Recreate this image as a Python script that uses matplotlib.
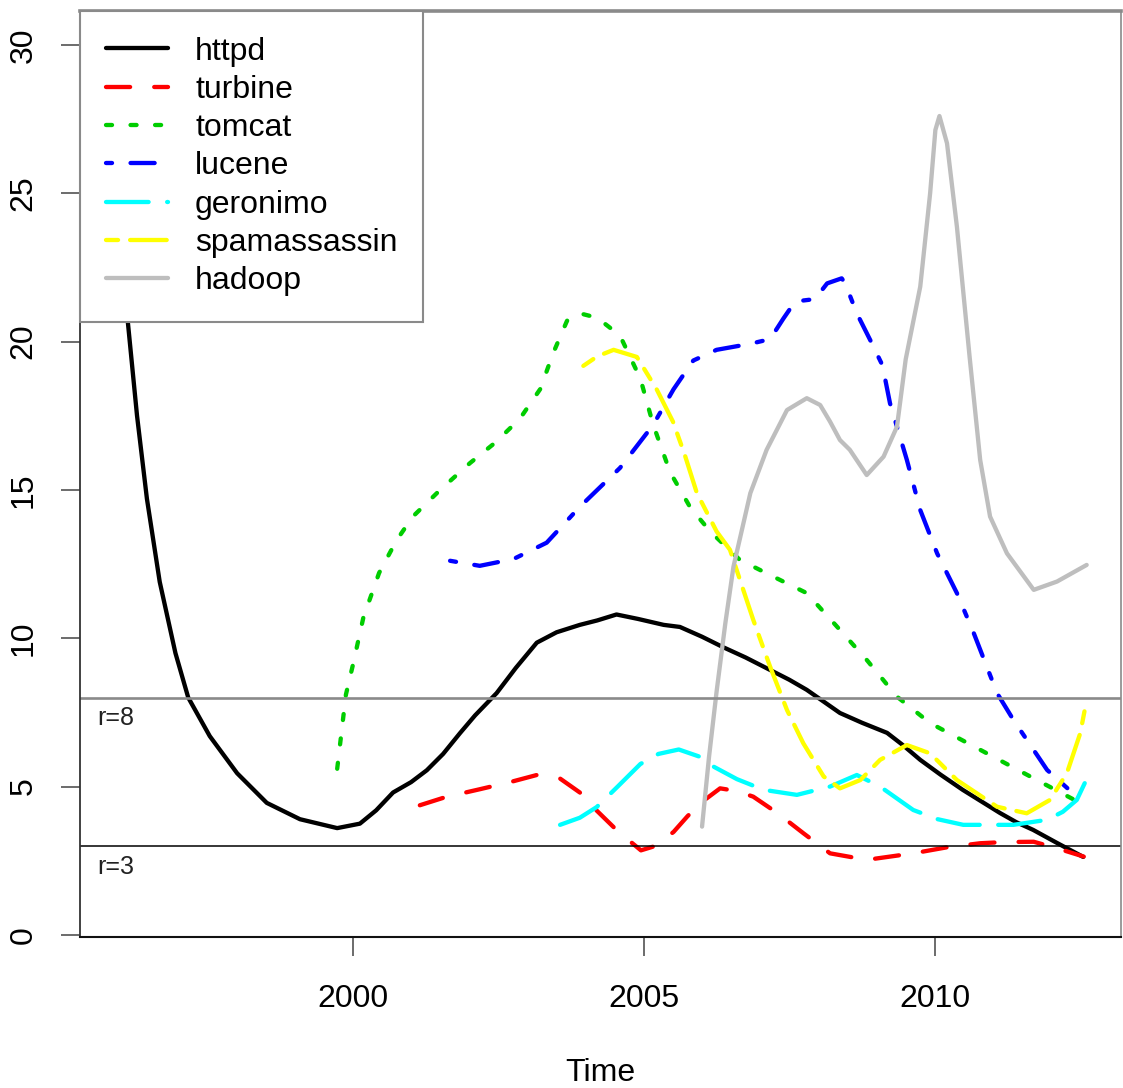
import matplotlib
matplotlib.use('Agg')
import matplotlib.pyplot as plt

plt.rcParams['font.family'] = ['Liberation Sans', 'DejaVu Sans']

# --- series (year, value) ---
httpd_x = [1995.85, 1996.0, 1996.13, 1996.29, 1996.46, 1996.68, 1996.95, 1997.17, 1997.54,
           1998.01, 1998.52, 1999.09, 1999.73, 2000.12, 2000.4, 2000.69, 2001.0, 2001.27,
           2001.55, 2001.84, 2002.1, 2002.47, 2002.8, 2003.16, 2003.5, 2003.9, 2004.2,
           2004.53, 2004.9, 2005.34, 2005.62, 2006.0, 2006.36, 2006.75, 2007.17, 2007.5,
           2007.8, 2008.1, 2008.37, 2008.75, 2009.18, 2009.45, 2009.75, 2010.1, 2010.48,
           2010.8, 2011.12, 2011.4, 2011.69, 2012.1, 2012.55]
httpd_y = [30.0, 24.5, 20.7, 17.5, 14.7, 11.9, 9.5, 8.0, 6.7, 5.45, 4.45, 3.9, 3.6, 3.75,
           4.2, 4.8, 5.15, 5.55, 6.1, 6.8, 7.4, 8.15, 9.0, 9.85, 10.2, 10.45, 10.6, 10.8,
           10.65, 10.45, 10.38, 10.05, 9.7, 9.35, 8.93, 8.6, 8.26, 7.85, 7.48, 7.15, 6.81,
           6.4, 5.9, 5.4, 4.89, 4.5, 4.11, 3.8, 3.54, 3.1, 2.63]

turbine_x = [2001.15, 2001.6, 2002.18, 2002.7, 2003.16, 2003.56, 2003.9, 2004.19, 2004.55,
             2004.95, 2005.2, 2005.51, 2005.75, 2005.97, 2006.31, 2006.6, 2006.88, 2007.3,
             2007.74, 2008.2, 2008.83, 2009.63, 2010.2, 2010.78, 2011.2, 2011.7, 2012.1,
             2012.56]
turbine_y = [4.37, 4.65, 4.91, 5.15, 5.39, 5.27, 4.8, 4.19, 3.5, 2.85, 3.0, 3.47, 4.0, 4.44,
             4.94, 4.85, 4.66, 4.1, 3.43, 2.75, 2.53, 2.75, 2.95, 3.09, 3.13, 3.14, 2.92,
             2.64]

tomcat_x = [1999.73, 1999.88, 2000.0, 2000.18, 2000.45, 2000.75, 2001.03, 2001.5, 2002.01,
            2002.45, 2002.87, 2003.22, 2003.44, 2003.68, 2003.9, 2004.2, 2004.59, 2004.94,
            2005.16, 2005.45, 2005.8, 2006.14, 2006.65, 2007.2, 2007.8, 2008.32, 2008.83,
            2009.35, 2009.92, 2010.78, 2011.64, 2012.4]
tomcat_y = [5.6, 8.1, 9.1, 10.7, 12.2, 13.3, 14.1, 15.0, 15.9, 16.6, 17.4, 18.4, 19.6, 20.7,
            20.95, 20.8, 20.2, 18.75, 17.2, 15.6, 14.4, 13.6, 12.64, 12.1, 11.52, 10.39, 9.27,
            8.03, 7.14, 6.24, 5.34, 4.55]

lucene_x = [2001.67, 2002.18, 2002.76, 2003.33, 2003.9, 2004.59, 2005.16, 2005.51, 2005.85,
            2006.25, 2006.82, 2007.17, 2007.4, 2007.6, 2007.94, 2008.15, 2008.4, 2008.46,
            2008.66, 2008.89, 2009.1, 2009.23, 2009.52, 2009.75, 2010.04, 2010.38, 2010.67,
            2011.07, 2011.35, 2011.93, 2012.44]
lucene_y = [12.61, 12.44, 12.67, 13.22, 14.43, 15.74, 17.19, 18.39, 19.36, 19.72, 19.92,
            20.08, 20.78, 21.35, 21.43, 21.96, 22.13, 21.96, 20.95, 20.05, 19.2, 17.92, 16.01,
            14.32, 12.86, 11.52, 10.17, 8.15, 7.25, 5.56, 4.66]

geronimo_x = [2003.56, 2003.9, 2004.19, 2004.55, 2004.94, 2005.25, 2005.6, 2005.97, 2006.2,
              2006.6, 2007.06, 2007.63, 2008.2, 2008.66, 2009.06, 2009.63, 2010.05, 2010.49,
              2011.35, 2011.93, 2012.2, 2012.44, 2012.59]
geronimo_y = [3.71, 3.95, 4.31, 5.0, 5.76, 6.1, 6.25, 6.0, 5.67, 5.25, 4.89, 4.72, 5.0, 5.39,
              5.0, 4.21, 3.9, 3.71, 3.71, 3.88, 4.15, 4.55, 5.17]

spam_x = [2003.96, 2004.2, 2004.48, 2004.88, 2005.22, 2005.5, 2005.7, 2005.91, 2006.25,
          2006.48, 2006.88, 2007.17, 2007.46, 2007.74, 2008.09, 2008.37, 2008.72, 2009.06,
          2009.52, 2009.92, 2010.38, 2011.07, 2011.58, 2011.98, 2012.27, 2012.5, 2012.61]
spam_y = [19.18, 19.5, 19.72, 19.48, 18.39, 17.3, 16.2, 14.9, 13.6, 12.98, 10.62, 9.04, 7.58,
          6.46, 5.34, 4.94, 5.22, 5.9, 6.4, 6.12, 5.22, 4.32, 4.1, 4.55, 5.45, 6.8, 7.92]

hadoop_x = [2006.0, 2006.12, 2006.25, 2006.4, 2006.54, 2006.83, 2007.11, 2007.46, 2007.8,
            2008.03, 2008.2, 2008.37, 2008.54, 2008.83, 2009.12, 2009.35, 2009.5, 2009.75,
            2009.92, 2010.01, 2010.08, 2010.21, 2010.38, 2010.6, 2010.78, 2010.95, 2011.24,
            2011.7, 2012.1, 2012.61]
hadoop_y = [3.65, 6.0, 8.2, 10.5, 12.41, 14.89, 16.35, 17.69, 18.09, 17.86, 17.3, 16.68,
            16.35, 15.5, 16.12, 17.13, 19.4, 21.85, 25.0, 27.13, 27.6, 26.68, 23.87, 19.45,
            16.01, 14.1, 12.86, 11.63, 11.91, 12.47]

# reference lines
ref_levels = [8, 3]
ref_labels = ['r=8', 'r=3']

x_ticks = [2000, 2005, 2010]
y_ticks = [0, 5, 10, 15, 20, 25, 30]

# (name, x, y, colour, R-like dash pattern in linewidth units)
series = [
    ('httpd', httpd_x, httpd_y, 'black', None),
    ('turbine', turbine_x, turbine_y, '#FF0000', (5.6, 5.6)),
    ('tomcat', tomcat_x, tomcat_y, '#00CD00', (1.4, 4.3)),
    ('lucene', lucene_x, lucene_y, '#0000FF', (1.4, 4.3, 5.6, 4.3)),
    ('geronimo', geronimo_x, geronimo_y, '#00FFFF', (9.9, 4.3)),
    ('spamassassin', spam_x, spam_y, '#FFFF00', (2.8, 2.8, 8.5, 2.8)),
    ('hadoop', hadoop_x, hadoop_y, '#BEBEBE', None),
]

fig = plt.figure(figsize=(11.23, 10.88), dpi=100)
ax = fig.add_axes([80 / 1123, 1 - 937 / 1088, 1041 / 1123, 926 / 1088])

for name, xs, ys, col, dash in series:
    if dash is None:
        ax.plot(xs, ys, color=col, lw=3.1, solid_capstyle='round',
                solid_joinstyle='round', label=name)
    else:
        ax.plot(xs, ys, color=col, lw=3.1, linestyle=(0, dash),
                dash_capstyle='round', dash_joinstyle='round', label=name)

ax.axhline(ref_levels[0], color='#8a8a8a', lw=1.9)
ax.axhline(ref_levels[1], color='black', lw=1.1)
for lvl, txt in zip(ref_levels, ref_labels):
    ax.text(1995.6, lvl - 0.7, txt, fontsize=18, va='center', ha='left', color='#222')

ax.set_xlim(1995.31, 2013.2)
ax.set_ylim(-0.07, 31.14)
ax.set_xticks(x_ticks)
ax.set_yticks(y_ticks)
ax.tick_params(axis='both', length=13.7, width=1.1, color='#444', labelsize=23)
ax.tick_params(axis='x', pad=20)
ax.tick_params(axis='y', pad=16, labelrotation=90)
for lab in ax.get_yticklabels():
    lab.set_va('center')

ax.spines['left'].set_color('#333')
ax.spines['left'].set_linewidth(1.3)
ax.spines['bottom'].set_color('#111')
ax.spines['bottom'].set_linewidth(1.5)
ax.spines['top'].set_color('#8a8a8a')
ax.spines['top'].set_linewidth(2.6)
ax.spines['right'].set_color('#8a8a8a')
ax.spines['right'].set_linewidth(1.2)

ax.set_xlabel('Time', fontsize=23, labelpad=32)

leg = ax.legend(loc='upper left', bbox_to_anchor=(0, 1), borderaxespad=0,
                fontsize=23, handlelength=1.95, handletextpad=0.85,
                labelspacing=0.26, borderpad=0.8, fancybox=False,
                framealpha=1, facecolor='white', edgecolor='#8a8a8a')
leg.get_frame().set_linewidth(1.5)
leg.set_zorder(10)

fig.savefig('out.png', dpi=100)
